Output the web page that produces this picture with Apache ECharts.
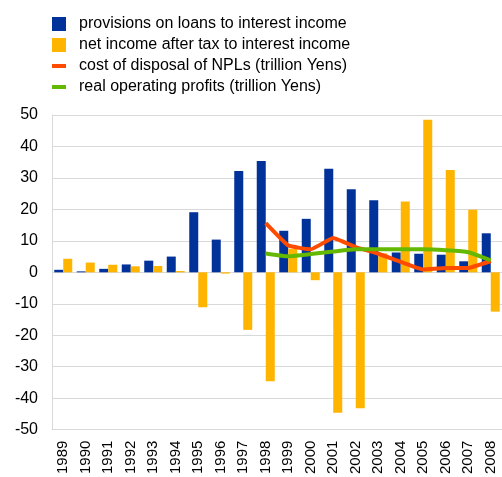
<!DOCTYPE html>
<html>
<head>
<meta charset="utf-8">
<script src="https://cdn.jsdelivr.net/npm/echarts@6/dist/echarts.min.js"></script>
<style>
    html, body { margin: 0; padding: 0; background: #fff; }
    #chart { width: 502px; height: 477px; }
</style>
</head>
<body>
<div id="chart"></div>
<script>
// 数据
const years = ['1989', '1990', '1991', '1992', '1993', '1994', '1995', '1996', '1997', '1998',
    '1999', '2000', '2001', '2002', '2003', '2004', '2005', '2006', '2007', '2008'];
const provisions = [0.8, 0.3, 1.1, 2.5, 3.7, 5.0, 19.1, 10.4, 32.2, 35.4,
    13.2, 17.0, 32.9, 26.4, 22.9, 6.3, 5.9, 5.6, 3.5, 12.4];
const netIncome = [4.3, 3.1, 2.4, 1.9, 2.0, 0.4, -11.1, -0.4, -18.3, -34.6,
    7.5, -2.5, -44.6, -43.2, 6.0, 22.5, 48.5, 32.5, 19.9, -12.5];
const nplCost = [null, null, null, null, null, null, null, null, null, 15.6,
    8.5, 7.3, 10.9, 8.0, 5.9, 3.3, 0.9, 1.4, 1.4, 3.6];
const operatingProfits = [null, null, null, null, null, null, null, null, null, 6.0,
    5.1, 5.8, 6.6, 7.3, 7.3, 7.3, 7.3, 7.0, 6.4, 3.8];

const font = 'Liberation Sans, Arial, sans-serif';
const lineIcon = 'path://M0,0 L14,0 L14,4 L0,4 Z';

const chart = echarts.init(document.getElementById('chart'));
chart.setOption({
    animation: false,
    textStyle: { fontFamily: font },
    legend: {
        orient: 'vertical',
        left: 47,
        top: 11,
        itemGap: 5,
        itemWidth: 14,
        itemHeight: 14,
        textStyle: { fontSize: 16, lineHeight: 14, color: '#000', fontFamily: font, padding: [0, 0, 0, 8] },
        data: [
            { name: 'provisions on loans to interest income', icon: 'rect' },
            { name: 'net income after tax to interest income', icon: 'rect' },
            { name: 'cost of disposal of NPLs (trillion Yens)', icon: lineIcon },
            { name: 'real operating profits (trillion Yens)', icon: lineIcon }
        ]
    },
    grid: { left: 52, right: -2, top: 115, bottom: 45, containLabel: false },
    xAxis: {
        type: 'category',
        data: years,
        axisLine: { onZero: false, lineStyle: { color: '#d9d9d9' } },
        axisTick: { show: false },
        axisLabel: { rotate: 90, fontSize: 15, color: '#000', margin: 11, fontFamily: font }
    },
    yAxis: {
        type: 'value',
        min: -50,
        max: 50,
        interval: 10,
        axisLine: { show: true, lineStyle: { color: '#d9d9d9' } },
        axisTick: { show: false },
        axisLabel: { fontSize: 16, color: '#000', margin: 14, fontFamily: font },
        splitLine: { lineStyle: { color: '#d9d9d9', width: 1 } }
    },
    series: [
        {
            name: 'provisions on loans to interest income',
            type: 'bar',
            data: provisions,
            barWidth: 9,
            barGap: '0%',
            itemStyle: { color: '#003299' }
        },
        {
            name: 'net income after tax to interest income',
            type: 'bar',
            data: netIncome,
            barWidth: 9,
            itemStyle: { color: '#FFB400' }
        },
        {
            name: 'cost of disposal of NPLs (trillion Yens)',
            type: 'line',
            data: nplCost,
            showSymbol: false,
            symbol: 'none',
            smooth: 0.1,
            lineStyle: { color: '#FF4B00', width: 4 },
            itemStyle: { color: '#FF4B00' }
        },
        {
            name: 'real operating profits (trillion Yens)',
            type: 'line',
            data: operatingProfits,
            showSymbol: false,
            symbol: 'none',
            smooth: 0.15,
            lineStyle: { color: '#65B800', width: 4 },
            itemStyle: { color: '#65B800' }
        }
    ]
});
</script>
</body>
</html>
